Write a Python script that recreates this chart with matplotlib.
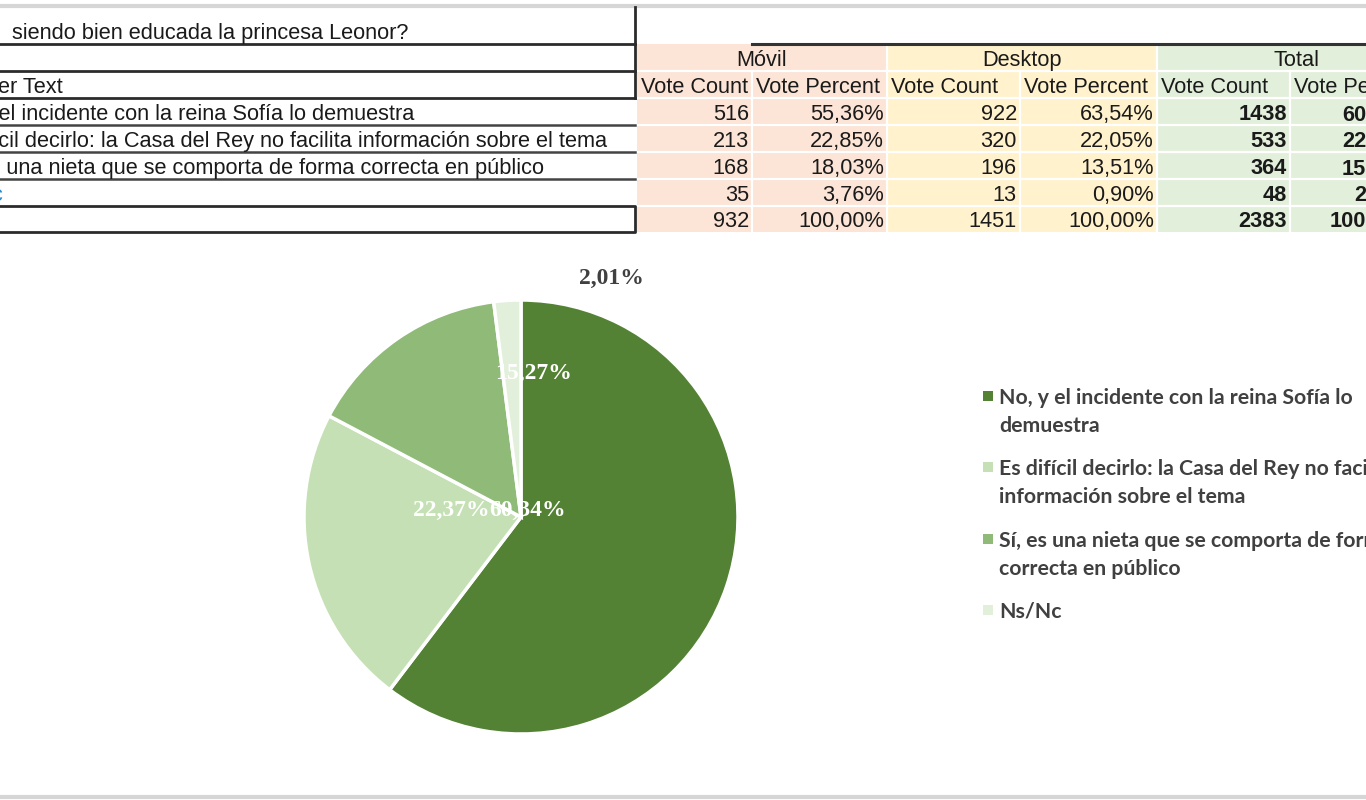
import matplotlib
matplotlib.use("Agg")
import matplotlib.pyplot as plt
from matplotlib.patches import Rectangle

# ---------------- data ----------------
question_visible = " siendo bien educada la princesa Leonor?"
answer_header = "Answer Text"
answers = [
    "No, y el incidente con la reina Sofía lo demuestra",
    "Es difícil decirlo: la Casa del Rey no facilita información sobre el tema",
    "Sí, es una nieta que se comporta de forma correcta en público",
    "Ns/Nc",
]
groups = ["Móvil", "Desktop", "Total"]
sub_headers = ["Vote Count", "Vote Percent"]
movil_count = [516, 213, 168, 35]
movil_pct = [55.36, 22.85, 18.03, 3.76]
movil_total = 932
desktop_count = [922, 320, 196, 13]
desktop_pct = [63.54, 22.05, 13.51, 0.90]
desktop_total = 1451
total_count = [1438, 533, 364, 48]
total_pct = [60.34, 22.37, 15.27, 2.01]
total_total = 2383
legend_labels = [
    "No, y el incidente con la reina Sofía lo\ndemuestra",
    "Es difícil decirlo: la Casa del Rey no facilita\ninformación sobre el tema",
    "Sí, es una nieta que se comporta de forma\ncorrecta en público",
    "Ns/Nc",
]
pie_colors = ["#548235", "#C5E0B4", "#8FBA78", "#E2EFDA"]


def fmt_pct(v):
    return f"{v:.2f}".replace(".", ",") + "%"


# ---------------- figure ----------------
W, H = 1366, 800
fig = plt.figure(figsize=(W / 100, H / 100), dpi=100)
fig.patch.set_facecolor("white")
ax = fig.add_axes([0, 0, 1, 1])
ax.set_xlim(0, W)
ax.set_ylim(H, 0)
ax.axis("off")

SANS = "Liberation Sans"
FS = 15.7
TXT = "#1a1a1a"

# page frame lines
ax.plot([0, W], [5.5, 5.5], color="#D6D6D6", lw=3, solid_capstyle="butt")
ax.plot([0, W], [796.5, 796.5], color="#D6D6D6", lw=3, solid_capstyle="butt")

# row edges
rows = [7, 44, 71, 98, 125, 152, 179, 206, 232]
xdiv = 635

# left part borders
LC = "#2b2b2b"
for y in [44, 71, 98]:
    ax.plot([0, xdiv], [y, y], color=LC, lw=2)
for y in [125, 152, 179]:
    ax.plot([0, xdiv], [y, y], color="#444444", lw=1.8)
ax.plot([xdiv, xdiv], [7, 98], color=LC, lw=2)
ax.plot([0, xdiv, xdiv, 0], [206, 206, 232, 232], color=LC, lw=2)

# left texts (the sheet is cropped at the left edge)
ax.text(6, rows[1] - 5, question_visible, fontsize=FS, family=SANS, color=TXT, va="baseline", ha="left")
ax.text(63, rows[3] - 5, answer_header, fontsize=FS, family=SANS, color=TXT, va="baseline", ha="right")
ans_right = [414, 607, 544, 3]
for i, (a, xr) in enumerate(zip(answers, ans_right)):
    col = "#2E8BD0" if a == "Ns/Nc" else TXT
    ax.text(xr, rows[4 + i] - 5, a, fontsize=FS, family=SANS, color=col, va="baseline", ha="right")

# right part: coloured cells
col_edges = [637, 752, 887, 1020, 1157, 1290, 1419]
group_span_end = [887, 1157, 1435]
group_fill = ["#FCE4D6", "#FFF2CC", "#E2EFDA"]
for g in range(3):
    x0, x1 = col_edges[2 * g], group_span_end[g]
    ax.add_patch(Rectangle((x0, 44), x1 - x0, 232 - 44, facecolor=group_fill[g], edgecolor="none", zorder=0))
# white grid lines
for y in rows[2:-1]:
    ax.plot([637, W], [y, y], color="white", lw=1.6, zorder=1)
for x in col_edges[1:-1]:
    y0 = 44 if x in (887, 1157) else 71
    ax.plot([x, x], [y0, 232], color="white", lw=1.6, zorder=1)
# dark header line
ax.plot([752, W], [44, 44], color="#333333", lw=2.2, zorder=2)

# group headers
for g, name in enumerate(groups):
    x0, x1 = col_edges[2 * g], group_span_end[g]
    ax.text((x0 + x1) / 2, rows[2] - 5, name, fontsize=FS, family=SANS, color=TXT, ha="center", va="baseline")
# sub headers
for c in range(6):
    ax.text(col_edges[c] + 4, rows[3] - 5, sub_headers[c % 2], fontsize=FS, family=SANS, color=TXT,
            ha="left", va="baseline")

# values
series = [
    (movil_count, movil_pct, movil_total, "normal"),
    (desktop_count, desktop_pct, desktop_total, "normal"),
    (total_count, total_pct, total_total, "bold"),
]
for g, (cnt, pct, tot, wt) in enumerate(series):
    xr_c = col_edges[2 * g + 1] - 3
    xr_p = col_edges[2 * g + 2] - 3
    for i in range(4):
        yb = rows[4 + i] - 5
        ax.text(xr_c, yb, str(cnt[i]), fontsize=FS, family=SANS, color=TXT, ha="right", va="baseline", weight=wt)
        ax.text(xr_p, yb, fmt_pct(pct[i]), fontsize=FS, family=SANS, color=TXT, ha="right", va="baseline", weight=wt)
    yb = rows[8] - 5
    ax.text(xr_c, yb, str(tot), fontsize=FS, family=SANS, color=TXT, ha="right", va="baseline", weight=wt)
    ax.text(xr_p, yb, fmt_pct(100.0), fontsize=FS, family=SANS, color=TXT, ha="right", va="baseline", weight=wt)

# ---------------- pie ----------------
cx, cy, r = 521, 517, 217
pax = fig.add_axes([(cx - r) / W, (H - cy - r) / H, 2 * r / W, 2 * r / H])
wedges, _ = pax.pie(total_pct, colors=pie_colors, startangle=90, counterclock=False, radius=1,
                    wedgeprops=dict(edgecolor="white", linewidth=2.5))
pax.set_xlim(-1, 1)
pax.set_ylim(-1, 1)
pax.axis("off")

label_pos = [(0.032, 0.032), (-0.32, 0.032), (0.06, 0.66), (0.415, 1.10)]
label_col = ["white", "white", "white", "#404040"]
for v, (lx, ly), c in zip(total_pct, label_pos, label_col):
    pax.text(lx, ly, fmt_pct(v), ha="center", va="center", fontsize=17, family="Liberation Serif",
             weight="bold", color=c, clip_on=False)

# ---------------- legend ----------------
LEG_FONT = "Lato"
leg_y = [396, 467, 539, 610]
for lab, y, w in zip(legend_labels, leg_y, wedges):
    ax.add_patch(Rectangle((983, y - 5), 10, 10, facecolor=w.get_facecolor(), edgecolor="none"))
    ax.text(999, y - 8, lab, fontsize=15.3, family=LEG_FONT, weight="bold", color="#404040",
            ha="left", va="top", linespacing=1.52)

fig.savefig("out.png", dpi=100, facecolor="white")
